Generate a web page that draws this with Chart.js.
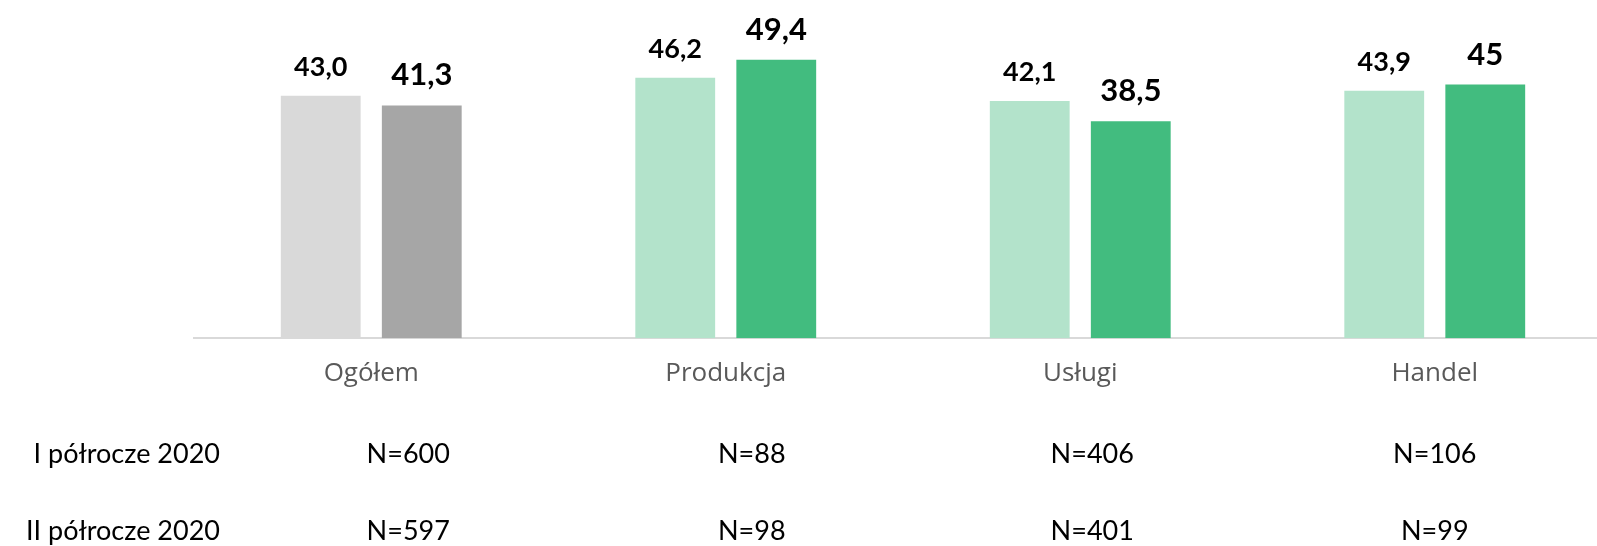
<!DOCTYPE html>
<html>
<head>
<meta charset="utf-8">
<script src="https://cdn.jsdelivr.net/npm/chart.js@4"></script>
<style>
  html, body { margin: 0; padding: 0; background: #fff; overflow: hidden; }
  #wrap { width: 1620px; height: 546px; }
</style>
</head>
<body>
<div id="wrap"><canvas id="myChart" width="1620" height="546"></canvas></div>
<script>
// chart data
var categories = ["Ogółem", "Produkcja", "Usługi", "Handel"];
var firstHalf = [43.0, 46.2, 42.1, 43.9];
var secondHalf = [41.3, 49.4, 38.5, 45];
var firstLabels = ["43,0", "46,2", "42,1", "43,9"];
var secondLabels = ["41,3", "49,4", "38,5", "45"];
var rowNames = ["I półrocze 2020", "II półrocze 2020"];
var nFirst = ["N=600", "N=88", "N=406", "N=106"];
var nSecond = ["N=597", "N=98", "N=401", "N=99"];

var lightColors = ["#d9d9d9", "#b3e3cb", "#b3e3cb", "#b3e3cb"];
var darkColors = ["#a6a6a6", "#42bc7f", "#42bc7f", "#42bc7f"];

//shift of the N column from the category centre
var nShift = [37, 26, 12, 0];

//draws the numbers above the bars
var valueLabels = {
  id: "valueLabels",
  afterDatasetsDraw: function(chart) {
    var ctx = chart.ctx;
    var texts = [firstLabels, secondLabels];
    var fonts = ["bold 27px Lato", "bold 31px Lato"];
    ctx.save();
    ctx.fillStyle = "#000";
    ctx.textAlign = "center";
    ctx.textBaseline = "alphabetic";
    chart.data.datasets.forEach(function(ds, d) {
      var meta = chart.getDatasetMeta(d);
      ctx.font = fonts[d];
      meta.data.forEach(function(bar, i) {
        ctx.fillText(texts[d][i], bar.x, bar.y - 20);
      });
    });
    ctx.restore();
  }
};

//draws the N table under the axis
var nTable = {
  id: "nTable",
  afterDraw: function(chart) {
    var ctx = chart.ctx;
    var xs = chart.scales.x;
    var rows = [nFirst, nSecond];
    var baselines = [463, 540];
    ctx.save();
    ctx.fillStyle = "#000";
    ctx.font = "27px Lato";
    ctx.textBaseline = "alphabetic";
    for (var r = 0; r < rows.length; r++) {
      ctx.textAlign = "right";
      ctx.fillText(rowNames[r], 220, baselines[r]);
      ctx.textAlign = "center";
      for (var i = 0; i < categories.length; i++) {
        ctx.fillText(rows[r][i], xs.getPixelForValue(i) + nShift[i], baselines[r]);
      }
    }
    ctx.restore();
  }
};

var ctx = document.getElementById("myChart").getContext("2d");
var myChart = new Chart(ctx, {
  type: "bar",
  data: {
    labels: categories,
    datasets: [{
      label: "I półrocze 2020",
      data: firstHalf,
      backgroundColor: lightColors,
      categoryPercentage: 0.57,
      barPercentage: 0.79
    }, {
      label: "II półrocze 2020",
      data: secondHalf,
      backgroundColor: darkColors,
      categoryPercentage: 0.57,
      barPercentage: 0.79
    }]
  },
  options: {
    responsive: false,
    animation: false,
    layout: {
      padding: { left: 194, right: 8, top: 0, bottom: 136.5 }
    },
    plugins: {
      legend: { display: false },
      tooltip: { enabled: false }
    },
    scales: {
      x: {
        grid: { display: false, drawTicks: false },
        border: { display: true, color: "#d9d9d9", width: 2 },
        ticks: {
          color: "#595959",
          font: { family: "Open Sans", size: 26 },
          padding: 20
        }
      },
      y: {
        display: false,
        min: 0,
        max: 60
      }
    }
  },
  plugins: [valueLabels, nTable]
});
</script>
</body>
</html>
